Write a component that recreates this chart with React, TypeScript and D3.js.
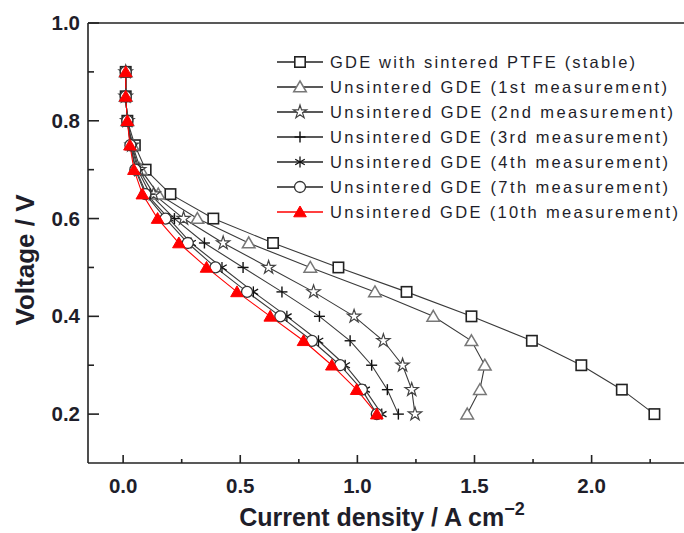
import React from "react";
import * as d3 from "d3";

const voltages = [0.9, 0.85, 0.8, 0.75, 0.7, 0.65, 0.6, 0.55, 0.5, 0.45, 0.4, 0.35, 0.3, 0.25, 0.2];

const sinteredStable = [0.011, 0.011, 0.018, 0.05, 0.096, 0.202, 0.385, 0.64, 0.919, 1.21, 1.487, 1.745, 1.956, 2.129, 2.268];
const unsintered1st = [0.011, 0.011, 0.018, 0.04, 0.075, 0.15, 0.317, 0.536, 0.799, 1.075, 1.324, 1.487, 1.544, 1.523, 1.469];
const unsintered2nd = [0.011, 0.011, 0.018, 0.037, 0.068, 0.13, 0.258, 0.427, 0.621, 0.813, 0.986, 1.111, 1.193, 1.232, 1.246];
const unsintered3rd = [0.011, 0.011, 0.018, 0.035, 0.062, 0.115, 0.219, 0.347, 0.512, 0.678, 0.838, 0.969, 1.061, 1.128, 1.175];
const unsintered4th = [0.011, 0.011, 0.018, 0.032, 0.055, 0.1, 0.195, 0.29, 0.422, 0.556, 0.699, 0.834, 0.948, 1.033, 1.104];
const unsintered7th = [0.011, 0.011, 0.018, 0.031, 0.052, 0.095, 0.181, 0.276, 0.394, 0.529, 0.671, 0.806, 0.926, 1.019, 1.083];
const unsintered10th = [0.011, 0.011, 0.018, 0.029, 0.046, 0.082, 0.147, 0.238, 0.356, 0.486, 0.628, 0.77, 0.891, 0.997, 1.083];

const seriesNames = [
  "GDE with sintered PTFE (stable)",
  "Unsintered GDE (1st measurement)",
  "Unsintered GDE (2nd measurement)",
  "Unsintered GDE (3rd measurement)",
  "Unsintered GDE (4th measurement)",
  "Unsintered GDE (7th measurement)",
  "Unsintered GDE (10th measurement)",
];
const seriesValues = [sinteredStable, unsintered1st, unsintered2nd, unsintered3rd, unsintered4th, unsintered7th, unsintered10th];
const markerTypes = ["square", "triangle", "star", "plus", "asterisk", "circle", "filledTriangle"];
const legendEnds = [635, 667, 673, 668, 668, 668, 678];

const xMajor = [0, 0.5, 1.0, 1.5, 2.0];
const xMinor = [0.25, 0.75, 1.25, 1.75, 2.25];
const yMajor = [0.2, 0.4, 0.6, 0.8, 1.0];
const yMinor = [0.3, 0.5, 0.7, 0.9];

const W = 684;
const H = 533;
const left = 88;
const right = 690;
const top = 23;
const bottom = 463;

const x = d3.scaleLinear().domain([-0.15, 2.42]).range([left, right]);
const y = d3.scaleLinear().domain([0.1, 1.0]).range([bottom, top]);

const LINE = "#3a3a3a";
const TXT = "#1e1e2a";
const FONT = "Liberation Sans, Arial, sans-serif";

function Marker({ type, cx, cy }: { type: string; cx: number; cy: number }) {
  const s = 5.2;
  if (type === "square") {
    return <rect x={cx - s} y={cy - s} width={2 * s} height={2 * s} fill="#fff" stroke="#222" strokeWidth={1.6} />;
  }
  if (type === "triangle" || type === "filledTriangle") {
    const h = 6;
    const pts = `${cx},${cy - h} ${cx + h * 1.05},${cy + h * 0.8} ${cx - h * 1.05},${cy + h * 0.8}`;
    if (type === "filledTriangle") return <polygon points={pts} fill="#ff0000" stroke="#ff0000" strokeWidth={1} />;
    return <polygon points={pts} fill="#fff" stroke="#777" strokeWidth={1.5} />;
  }
  if (type === "star") {
    const p = d3.symbol().type(d3.symbolStar).size(55)();
    return <path d={p || ""} transform={`translate(${cx},${cy})`} fill="#fff" stroke="#444" strokeWidth={1.2} />;
  }
  if (type === "plus") {
    return (
      <g stroke="#111" strokeWidth={1.4}>
        <line x1={cx - 5.5} y1={cy} x2={cx + 5.5} y2={cy} />
        <line x1={cx} y1={cy - 5.5} x2={cx} y2={cy + 5.5} />
      </g>
    );
  }
  if (type === "asterisk") {
    const r = 5.5;
    const a = r * Math.cos(Math.PI / 6);
    const b = r * Math.sin(Math.PI / 6);
    return (
      <g stroke="#111" strokeWidth={1.3}>
        <line x1={cx} y1={cy - r} x2={cx} y2={cy + r} />
        <line x1={cx - a} y1={cy - b} x2={cx + a} y2={cy + b} />
        <line x1={cx - a} y1={cy + b} x2={cx + a} y2={cy - b} />
      </g>
    );
  }
  if (type === "circle") {
    return <circle cx={cx} cy={cy} r={5.5} fill="#fff" stroke="#333" strokeWidth={1.3} />;
  }
  return null;
}

export default function App() {
  const line = d3
    .line<number>()
    .x((d) => x(d))
    .y((_, i) => y(voltages[i]));

  return (
    <svg width={W} height={H} style={{ position: "absolute", left: 0, top: 0, background: "#fff" }}>
      <rect x={0} y={0} width={W} height={H} fill="#fff" />
      {seriesValues.map((vals, si) => (
        <path
          key={"l" + si}
          d={line(vals) || ""}
          fill="none"
          stroke={si === 6 ? "#ff0000" : LINE}
          strokeWidth={1.1}
        />
      ))}
      {seriesValues.map((vals, si) => (
        <g key={"m" + si}>
          {vals.map((v, i) => (
            <Marker key={i} type={markerTypes[si]} cx={x(v)} cy={y(voltages[i])} />
          ))}
        </g>
      ))}

      <g stroke="#222" strokeWidth={1.6} fill="none">
        <line x1={left} y1={top} x2={left} y2={bottom} />
        <line x1={left} y1={bottom} x2={right} y2={bottom} />
        <line x1={left} y1={top} x2={right} y2={top} />
        {xMajor.map((t) => (
          <line key={"xM" + t} x1={x(t)} x2={x(t)} y1={bottom} y2={bottom - 8} />
        ))}
        {xMinor.map((t) => (
          <line key={"xm" + t} x1={x(t)} x2={x(t)} y1={bottom} y2={bottom - 4} />
        ))}
        {yMajor.map((t) => (
          <line key={"yM" + t} x1={left} x2={left + 11} y1={y(t)} y2={y(t)} />
        ))}
        {yMinor.map((t) => (
          <line key={"ym" + t} x1={left} x2={left + 6} y1={y(t)} y2={y(t)} />
        ))}
      </g>

      <g fontFamily={FONT} fontWeight="bold" fontSize={20.5} fill={TXT}>
        {xMajor.map((t) => (
          <text key={"xl" + t} x={x(t)} y={bottom + 30} textAnchor="middle">
            {d3.format(".1f")(t)}
          </text>
        ))}
        {yMajor.map((t) => (
          <text key={"yl" + t} x={80} y={y(t) + 7} textAnchor="end">
            {d3.format(".1f")(t)}
          </text>
        ))}
      </g>

      <text x={382} y={526} textAnchor="middle" fontFamily={FONT} fontWeight="bold" fontSize={25} fill={TXT}>
        Current density / A cm<tspan dy={-11} fontSize={18}>−2</tspan>
      </text>
      <text
        transform={`translate(34,260) rotate(-90)`}
        textAnchor="middle"
        fontFamily={FONT}
        fontWeight="bold"
        fontSize={26}
        fill={TXT}
      >
        Voltage / V
      </text>

      <g>
        {seriesNames.map((name, i) => {
          const cy = 62 + i * 25;
          return (
            <g key={"lg" + i}>
              <line x1={277} x2={323} y1={cy} y2={cy} stroke={i === 6 ? "#ff0000" : "#222"} strokeWidth={1.3} />
              <Marker type={markerTypes[i]} cx={300} cy={cy} />
              <text
                x={330}
                y={cy + 6}
                fontFamily={FONT}
                fontSize={16.5}
                fill={TXT}
                textLength={legendEnds[i] - 330}
                lengthAdjust="spacing"
              >
                {name}
              </text>
            </g>
          );
        })}
      </g>
    </svg>
  );
}
